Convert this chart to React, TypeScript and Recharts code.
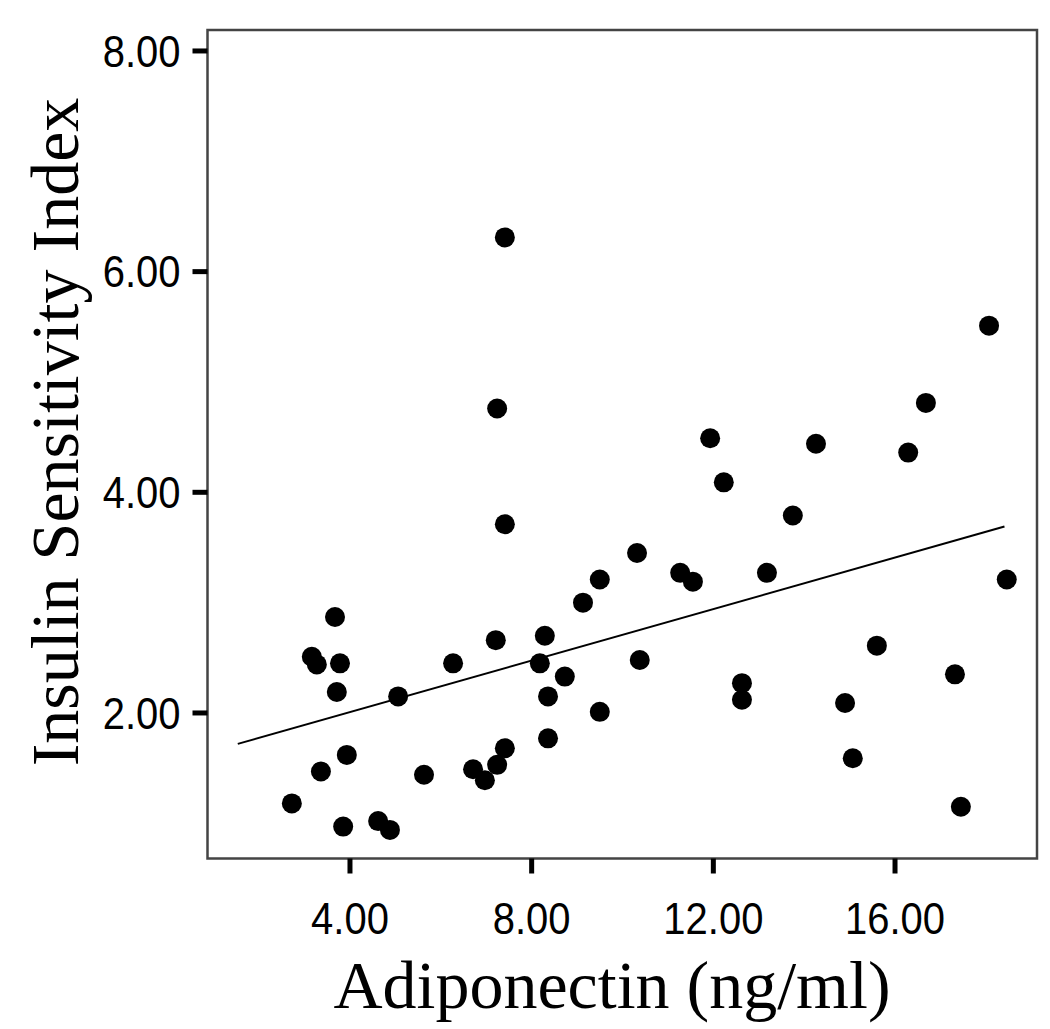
import React from "react";
import { ScatterChart, Scatter, XAxis, YAxis, ReferenceArea } from "recharts";

// Adiponectin (ng/ml) per subject
const adiponectin = [
	2.72, 3.16, 3.27, 3.67, 3.78, 3.71, 3.36, 3.93, 3.85, 4.62,
	4.88, 5.06, 5.63, 6.27, 6.71, 6.97, 7.24, 7.41, 7.21, 7.24,
	7.41, 7.41, 8.18, 8.29, 8.36, 8.36, 8.73, 9.5, 9.13, 9.5,
	10.32, 10.38, 11.27, 11.55, 11.93, 12.23, 12.63, 12.63, 13.18, 13.75,
	14.26, 14.9, 15.07, 15.6, 16.29, 16.68, 17.32, 17.45, 18.07, 18.46,
];

// Insulin sensitivity index per subject
const insulinIndex = [
	1.18, 2.51, 2.44, 2.87, 2.45, 2.19, 1.47, 1.62, 0.97, 1.02,
	0.94, 2.15, 1.44, 2.45, 1.49, 1.39, 1.53, 1.68, 2.66, 4.76,
	6.31, 3.71, 2.45, 2.7, 2.15, 1.77, 2.33, 2.01, 3.0, 3.21,
	3.45, 2.48, 3.27, 3.19, 4.49, 4.09, 2.27, 2.12, 3.27, 3.79,
	4.44, 2.09, 1.59, 2.61, 4.36, 4.81, 2.35, 1.15, 5.51, 3.21,
];

// fitted regression line end points
const fitX = [1.53, 18.41];
const fitY = [1.72, 3.69];

const xTicks = [4, 8, 12, 16];
const yTicks = [2, 4, 6, 8];
const xDomain = [0.863, 19.126];
const yDomain = [0.681, 8.19];

const points = adiponectin.map((x, i) => ({ x, y: insulinIndex[i] }));
const fitLine = fitX.map((x, i) => ({ x, y: fitY[i] }));

const tickFont = "'Liberation Sans', Arial, sans-serif";
const titleFont = "'Liberation Serif', 'Times New Roman', serif";

const XTick = (props: any) => {
	const { x, y, payload } = props;
	return (
		<g transform={`translate(${x},${y})`}>
			<text
				textAnchor="middle"
				y={54}
				fontSize={40}
				fontFamily={tickFont}
				fill="#000"
				transform="scale(1,1.12)">
				{Number(payload.value).toFixed(2)}
			</text>
		</g>
	);
};

const YTick = (props: any) => {
	const { x, y, payload } = props;
	return (
		<g transform={`translate(${x - 12},${y})`}>
			<text
				textAnchor="end"
				y={14}
				fontSize={40}
				fontFamily={tickFont}
				fill="#000"
				transform="scale(1,1.12)">
				{Number(payload.value).toFixed(2)}
			</text>
		</g>
	);
};

const Dot = (props: any) => <circle cx={props.cx} cy={props.cy} r={10} fill="#000" />;

const XTitle = () => (
	<text x={604} y={1000} textAnchor="middle" fontSize={68} fontFamily={titleFont} fill="#000">
		Adiponectin (ng/ml)
	</text>
);

const YTitle = () => (
	<text
		x={70}
		y={424}
		textAnchor="middle"
		fontSize={68}
		fontFamily={titleFont}
		fill="#000"
		transform="rotate(-90, 70, 424)">
		Insulin Sensitivity Index
	</text>
);

export default function App() {
	return (
		<ScatterChart
			width={1042}
			height={1021}
			margin={{ top: 22, right: 13, bottom: 0, left: 0 }}>
			<XAxis
				type="number"
				dataKey="x"
				domain={xDomain}
				ticks={xTicks}
				allowDataOverflow
				height={170.5}
				axisLine={false}
				tickLine={{ stroke: "#000", strokeWidth: 5 }}
				tickSize={15}
				tickMargin={0}
				tick={<XTick />}
				label={<XTitle />}
			/>
			<YAxis
				type="number"
				dataKey="y"
				domain={yDomain}
				ticks={yTicks}
				allowDataOverflow
				width={199.5}
				axisLine={false}
				tickLine={{ stroke: "#000", strokeWidth: 5 }}
				tickSize={15}
				tickMargin={0}
				tick={<YTick />}
				label={<YTitle />}
			/>
			<ReferenceArea
				x1={xDomain[0]}
				x2={xDomain[1]}
				y1={yDomain[0]}
				y2={yDomain[1]}
				fill="none"
				stroke="#444"
				strokeWidth={2.5}
				ifOverflow="visible"
			/>
			<Scatter
				data={fitLine}
				line={{ stroke: "#000", strokeWidth: 2 }}
				shape={() => <g />}
				isAnimationActive={false}
			/>
			<Scatter data={points} shape={<Dot />} isAnimationActive={false} />
		</ScatterChart>
	);
}
